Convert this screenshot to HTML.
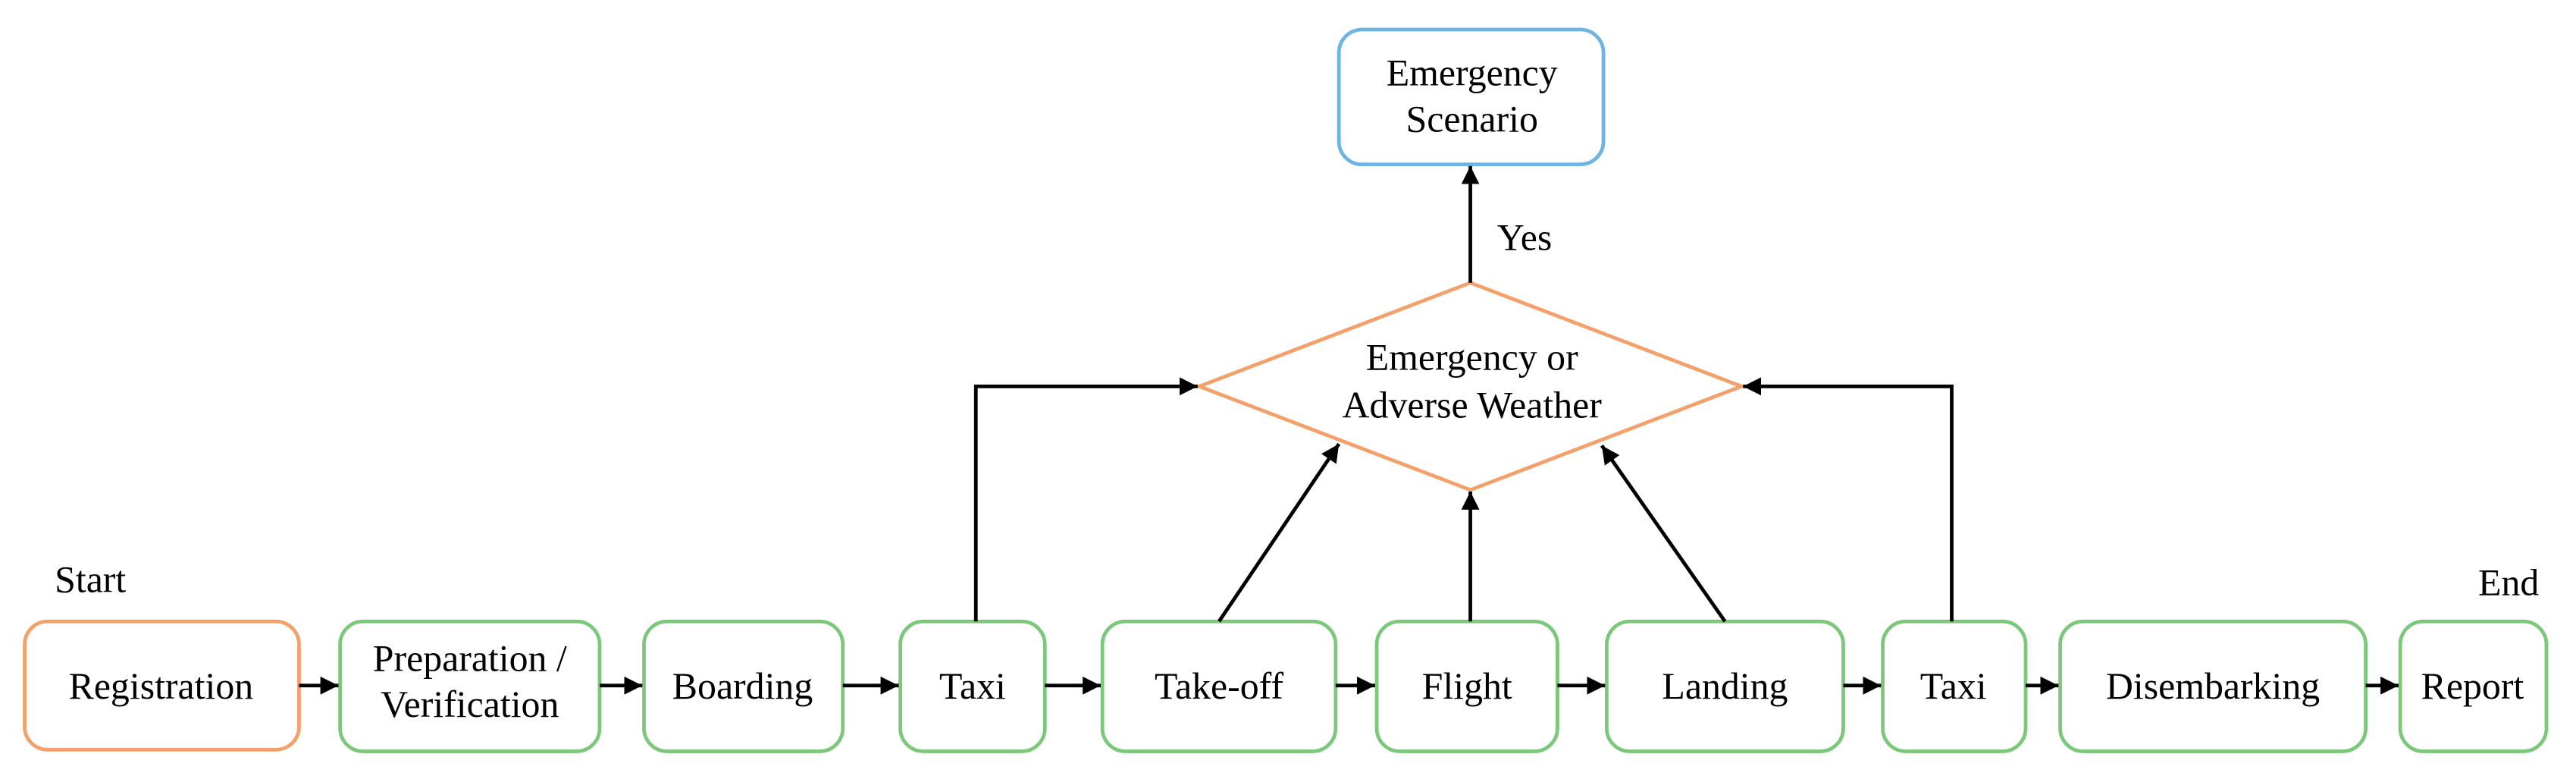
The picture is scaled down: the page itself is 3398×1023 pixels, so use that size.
<!DOCTYPE html>
<html><head><meta charset="utf-8"><style>html,body{margin:0;padding:0;background:#fff}svg{display:block}</style></head>
<body>
<svg width="3398" height="1023" viewBox="0 0 1568 472" preserveAspectRatio="none" xmlns="http://www.w3.org/2000/svg" font-family="'Liberation Serif', serif" font-size="23" text-anchor="middle">
<defs><marker id="a" viewBox="0 0 10 10" refX="10" refY="5" markerWidth="5" markerHeight="5" orient="auto"><path d="M0,0 L10,5 L0,10 z" fill="#000"/></marker></defs>
<g fill="#fff" stroke-width="2.2">
<rect x="15" y="378" width="167" height="78" rx="14" stroke="#f4a06a"/>
<g stroke="#7cc87a">
<rect x="207" y="378" width="158" height="79" rx="14"/>
<rect x="392" y="378" width="121" height="79" rx="14"/>
<rect x="548" y="378" width="88" height="79" rx="14"/>
<rect x="671" y="378" width="142" height="79" rx="14"/>
<rect x="838" y="378" width="110" height="79" rx="14"/>
<rect x="978" y="378" width="144" height="79" rx="14"/>
<rect x="1146" y="378" width="87" height="79" rx="14"/>
<rect x="1254" y="378" width="186" height="79" rx="14"/>
<rect x="1461" y="378" width="89" height="79" rx="14"/>
</g>
<rect x="815" y="18" width="161" height="82" rx="14" stroke="#6cb4e4"/>
<polygon points="730,235 895,172 1060,235 895,298" stroke="#f4a06a"/>
</g>
<g stroke="#000" stroke-width="2.2" fill="none" marker-end="url(#a)">
<line x1="182" y1="417" x2="206" y2="417"/>
<line x1="365" y1="417" x2="391" y2="417"/>
<line x1="513" y1="417" x2="547" y2="417"/>
<line x1="636" y1="417" x2="670" y2="417"/>
<line x1="813" y1="417" x2="837" y2="417"/>
<line x1="948" y1="417" x2="977" y2="417"/>
<line x1="1122" y1="417" x2="1145" y2="417"/>
<line x1="1233" y1="417" x2="1253" y2="417"/>
<line x1="1440" y1="417" x2="1460" y2="417"/>
<polyline points="594,378 594,235 729,235"/>
<polyline points="1188,378 1188,235 1061,235"/>
<line x1="742" y1="378" x2="815" y2="270"/>
<line x1="895" y1="378" x2="895" y2="299"/>
<line x1="1050" y1="378" x2="975" y2="271"/>
<line x1="895" y1="172" x2="895" y2="101"/>
</g>
<g fill="#000">
<text x="55" y="360" text-anchor="middle">Start</text>
<text x="1527" y="362">End</text>
<text x="928" y="152">Yes</text>
<text x="896" y="52">Emergency</text>
<text x="896" y="80">Scenario</text>
<text x="896" y="225">Emergency or</text>
<text x="896" y="254">Adverse Weather</text>
<text x="98" y="425">Registration</text>
<text x="286" y="408">Preparation /</text>
<text x="286" y="436">Verification</text>
<text x="452" y="425">Boarding</text>
<text x="592" y="425">Taxi</text>
<text x="742" y="425">Take-off</text>
<text x="893" y="425">Flight</text>
<text x="1050" y="425">Landing</text>
<text x="1189" y="425">Taxi</text>
<text x="1347" y="425">Disembarking</text>
<text x="1505" y="425">Report</text>
</g>
</svg>
</body></html>
